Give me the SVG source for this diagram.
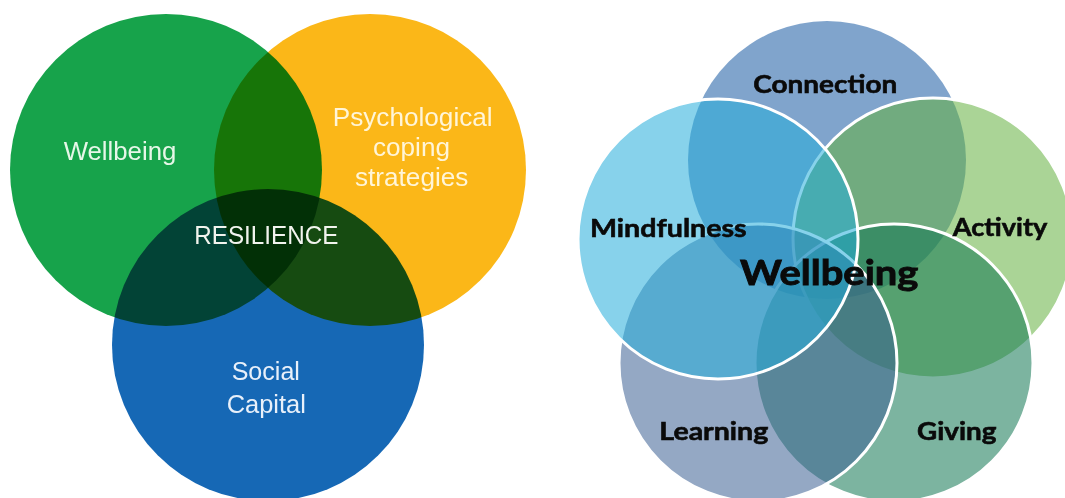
<svg xmlns="http://www.w3.org/2000/svg" width="1065" height="498" viewBox="0 0 1065 498">
<style>
.bg{fill:#ffffff}
.lc{mix-blend-mode:multiply}
.lt{font-family:"Liberation Sans",Arial,sans-serif;font-size:25.5px;text-anchor:middle}
.rc{fill-opacity:0.55;stroke:#ffffff;stroke-width:3}
.rt{font-family:Lato,"Liberation Sans",Arial,sans-serif;font-weight:bold;font-size:25px;fill:#0a0a0a;stroke:#0a0a0a;stroke-width:0.6px;text-anchor:middle}
</style>
<rect class="bg" x="0" y="0" width="1065" height="498"/>
<g id="venn-resilience" style="isolation:isolate">
  <g id="node-wellbeing-left">
    <circle class="lc" cx="166" cy="170" r="156" fill="#17a34b"/>
  </g>
  <g id="node-coping">
    <circle class="lc" cx="370" cy="170" r="156" fill="#fbb718"/>
  </g>
  <g id="node-social-capital">
    <circle class="lc" cx="268" cy="345" r="156" fill="#1668b5"/>
  </g>
</g>
<g id="labels-resilience">
  <text class="lt" x="120" y="160" fill="#e6f7e8" textLength="112.7" lengthAdjust="spacingAndGlyphs">Wellbeing</text>
  <text class="lt" x="412.7" y="125.7" fill="#fff5d8" textLength="160" lengthAdjust="spacingAndGlyphs">Psychological</text>
  <text class="lt" x="411.5" y="155.7" fill="#fff5d8" textLength="77" lengthAdjust="spacingAndGlyphs">coping</text>
  <text class="lt" x="411.7" y="185.7" fill="#fff5d8" textLength="113.3" lengthAdjust="spacingAndGlyphs">strategies</text>
  <text class="lt" x="266.3" y="244" fill="#f2f4ee" textLength="144" lengthAdjust="spacingAndGlyphs">RESILIENCE</text>
  <text class="lt" x="265.8" y="380" fill="#e8f0fa" textLength="68.3" lengthAdjust="spacingAndGlyphs">Social</text>
  <text class="lt" x="266.3" y="413.3" fill="#e8f0fa" textLength="79.3" lengthAdjust="spacingAndGlyphs">Capital</text>
</g>
<g id="venn-wellbeing">
  <g id="node-connection">
    <circle cx="827" cy="160" r="139" fill="#185aa2" fill-opacity="0.55"/>
  </g>
  <g id="node-activity">
    <circle class="rc" cx="933" cy="238" r="140" fill="#64b140"/>
  </g>
  <g id="node-giving">
    <circle class="rc" cx="894" cy="363" r="139" fill="#117752"/>
  </g>
  <g id="node-learning">
    <circle class="rc" cx="758" cy="363" r="139" fill="#3c6194"/>
  </g>
  <g id="node-mindfulness">
    <circle class="rc" cx="718" cy="239" r="140" fill="#25addb"/>
  </g>
</g>
<g id="labels-wellbeing">
  <text class="rt" x="825.3" y="92.7" textLength="144" lengthAdjust="spacingAndGlyphs">Connection</text>
  <text class="rt" x="668.3" y="237.3" textLength="156.7" lengthAdjust="spacingAndGlyphs">Mindfulness</text>
  <text class="rt" x="1000" y="236" textLength="94.6" lengthAdjust="spacingAndGlyphs">Activity</text>
  <text class="rt" x="829.2" y="285" style="font-size:35px;stroke-width:0.9px" textLength="178.3" lengthAdjust="spacingAndGlyphs">Wellbeing</text>
  <text class="rt" x="713.8" y="440" textLength="109" lengthAdjust="spacingAndGlyphs">Learning</text>
  <text class="rt" x="956.7" y="440" textLength="79.4" lengthAdjust="spacingAndGlyphs">Giving</text>
</g>
</svg>
